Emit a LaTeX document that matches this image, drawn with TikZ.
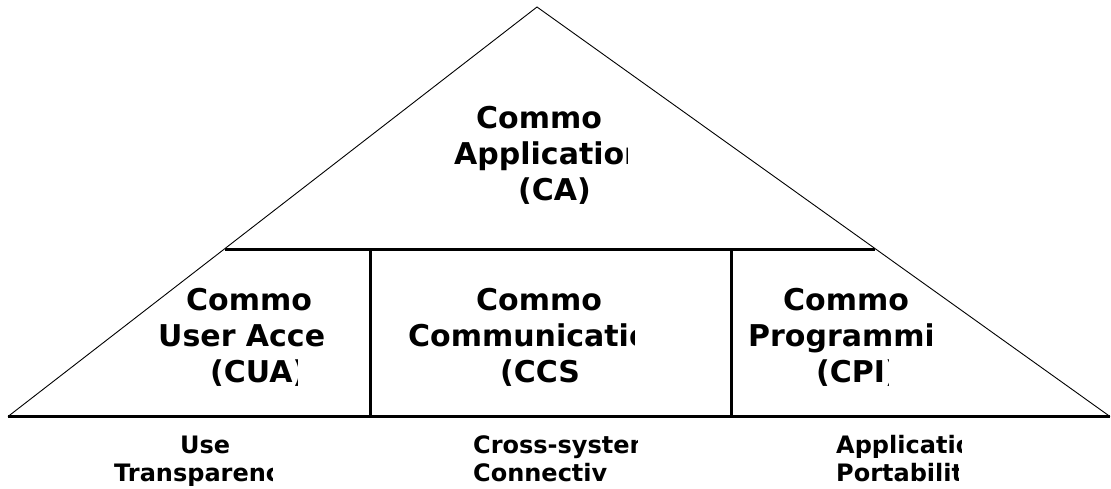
\documentclass[tikz,border=0pt]{standalone}
\usepackage{fontspec}
\setmainfont{DejaVu Sans}
\newcommand{\cutline}[6]{%
  \begin{scope}
    \clip (#2-6,#3-40) rectangle (#6,#3+12);
    \node[#4,anchor=base west] (#1) at (#2,#3) {#5};
  \end{scope}}
\tikzset{
  big/.style={font=\fontsize{30}{36}\selectfont\bfseries, inner sep=0pt},
  small/.style={font=\fontsize{24}{28}\selectfont\bfseries, inner sep=0pt},
  thinline/.style={line width=0.9pt},
  thickline/.style={line width=3.5pt},
  midline/.style={line width=3pt}
}
\begin{document}
\begin{tikzpicture}[x=1pt,y=-1pt]
\useasboundingbox (0,0) rectangle (1111,489);
\coordinate (apex) at (537,7);
\coordinate (bl) at (8,416.5);
\coordinate (br) at (1110,416.5);
\coordinate (ml) at (225,249);
\coordinate (mr) at (875,249);
\coordinate (v1t) at (370,249);
\coordinate (v1b) at (370,416.5);
\coordinate (v2t) at (731,249);
\coordinate (v2b) at (731,416.5);
\draw[thinline] (bl) -- (apex) -- (br);
\draw[thickline] (bl) -- (br);
\draw[midline] (ml) -- (mr);
\draw[midline] (v1t) -- (v1b);
\draw[midline] (v2t) -- (v2b);
% CA
\node[big,anchor=base west] (ca1) at (476,129) {Commo};
\cutline{ca2}{454}{165}{big}{Application}{627.5}
\node[big,anchor=base west] (ca3) at (518,201) {(CA)};
% CUA
\node[big,anchor=base west] (cua1) at (186,310) {Commo};
\cutline{cua2}{158}{346}{big}{User Acces}{323}
\cutline{cua3}{210}{382}{big}{(CUA)}{297.5}
% CCS
\node[big,anchor=base west] (ccs1) at (476,310) {Commo};
\cutline{ccs2}{408}{346}{big}{Communicatio}{634}
\cutline{ccs3}{500}{382}{big}{(CCS)}{580}
% CPI
\node[big,anchor=base west] (cpi1) at (783,310) {Commo};
\cutline{cpi2}{748}{346}{big}{Programmi}{931}
\cutline{cpi3}{816}{382}{big}{(CPI)}{888.5}
% bottom
\node[small,anchor=base west] (b1) at (180,453) {Use};
\cutline{b2}{114}{481}{small}{Transparenc}{272}
\cutline{b3}{473}{453}{small}{Cross-system}{637}
\node[small,anchor=base west] (b4) at (473,481) {Connectiv};
\cutline{b5}{836}{453}{small}{Applicatio}{961}
\cutline{b6}{836}{481}{small}{Portabilit}{958}
\end{tikzpicture}
\end{document}
